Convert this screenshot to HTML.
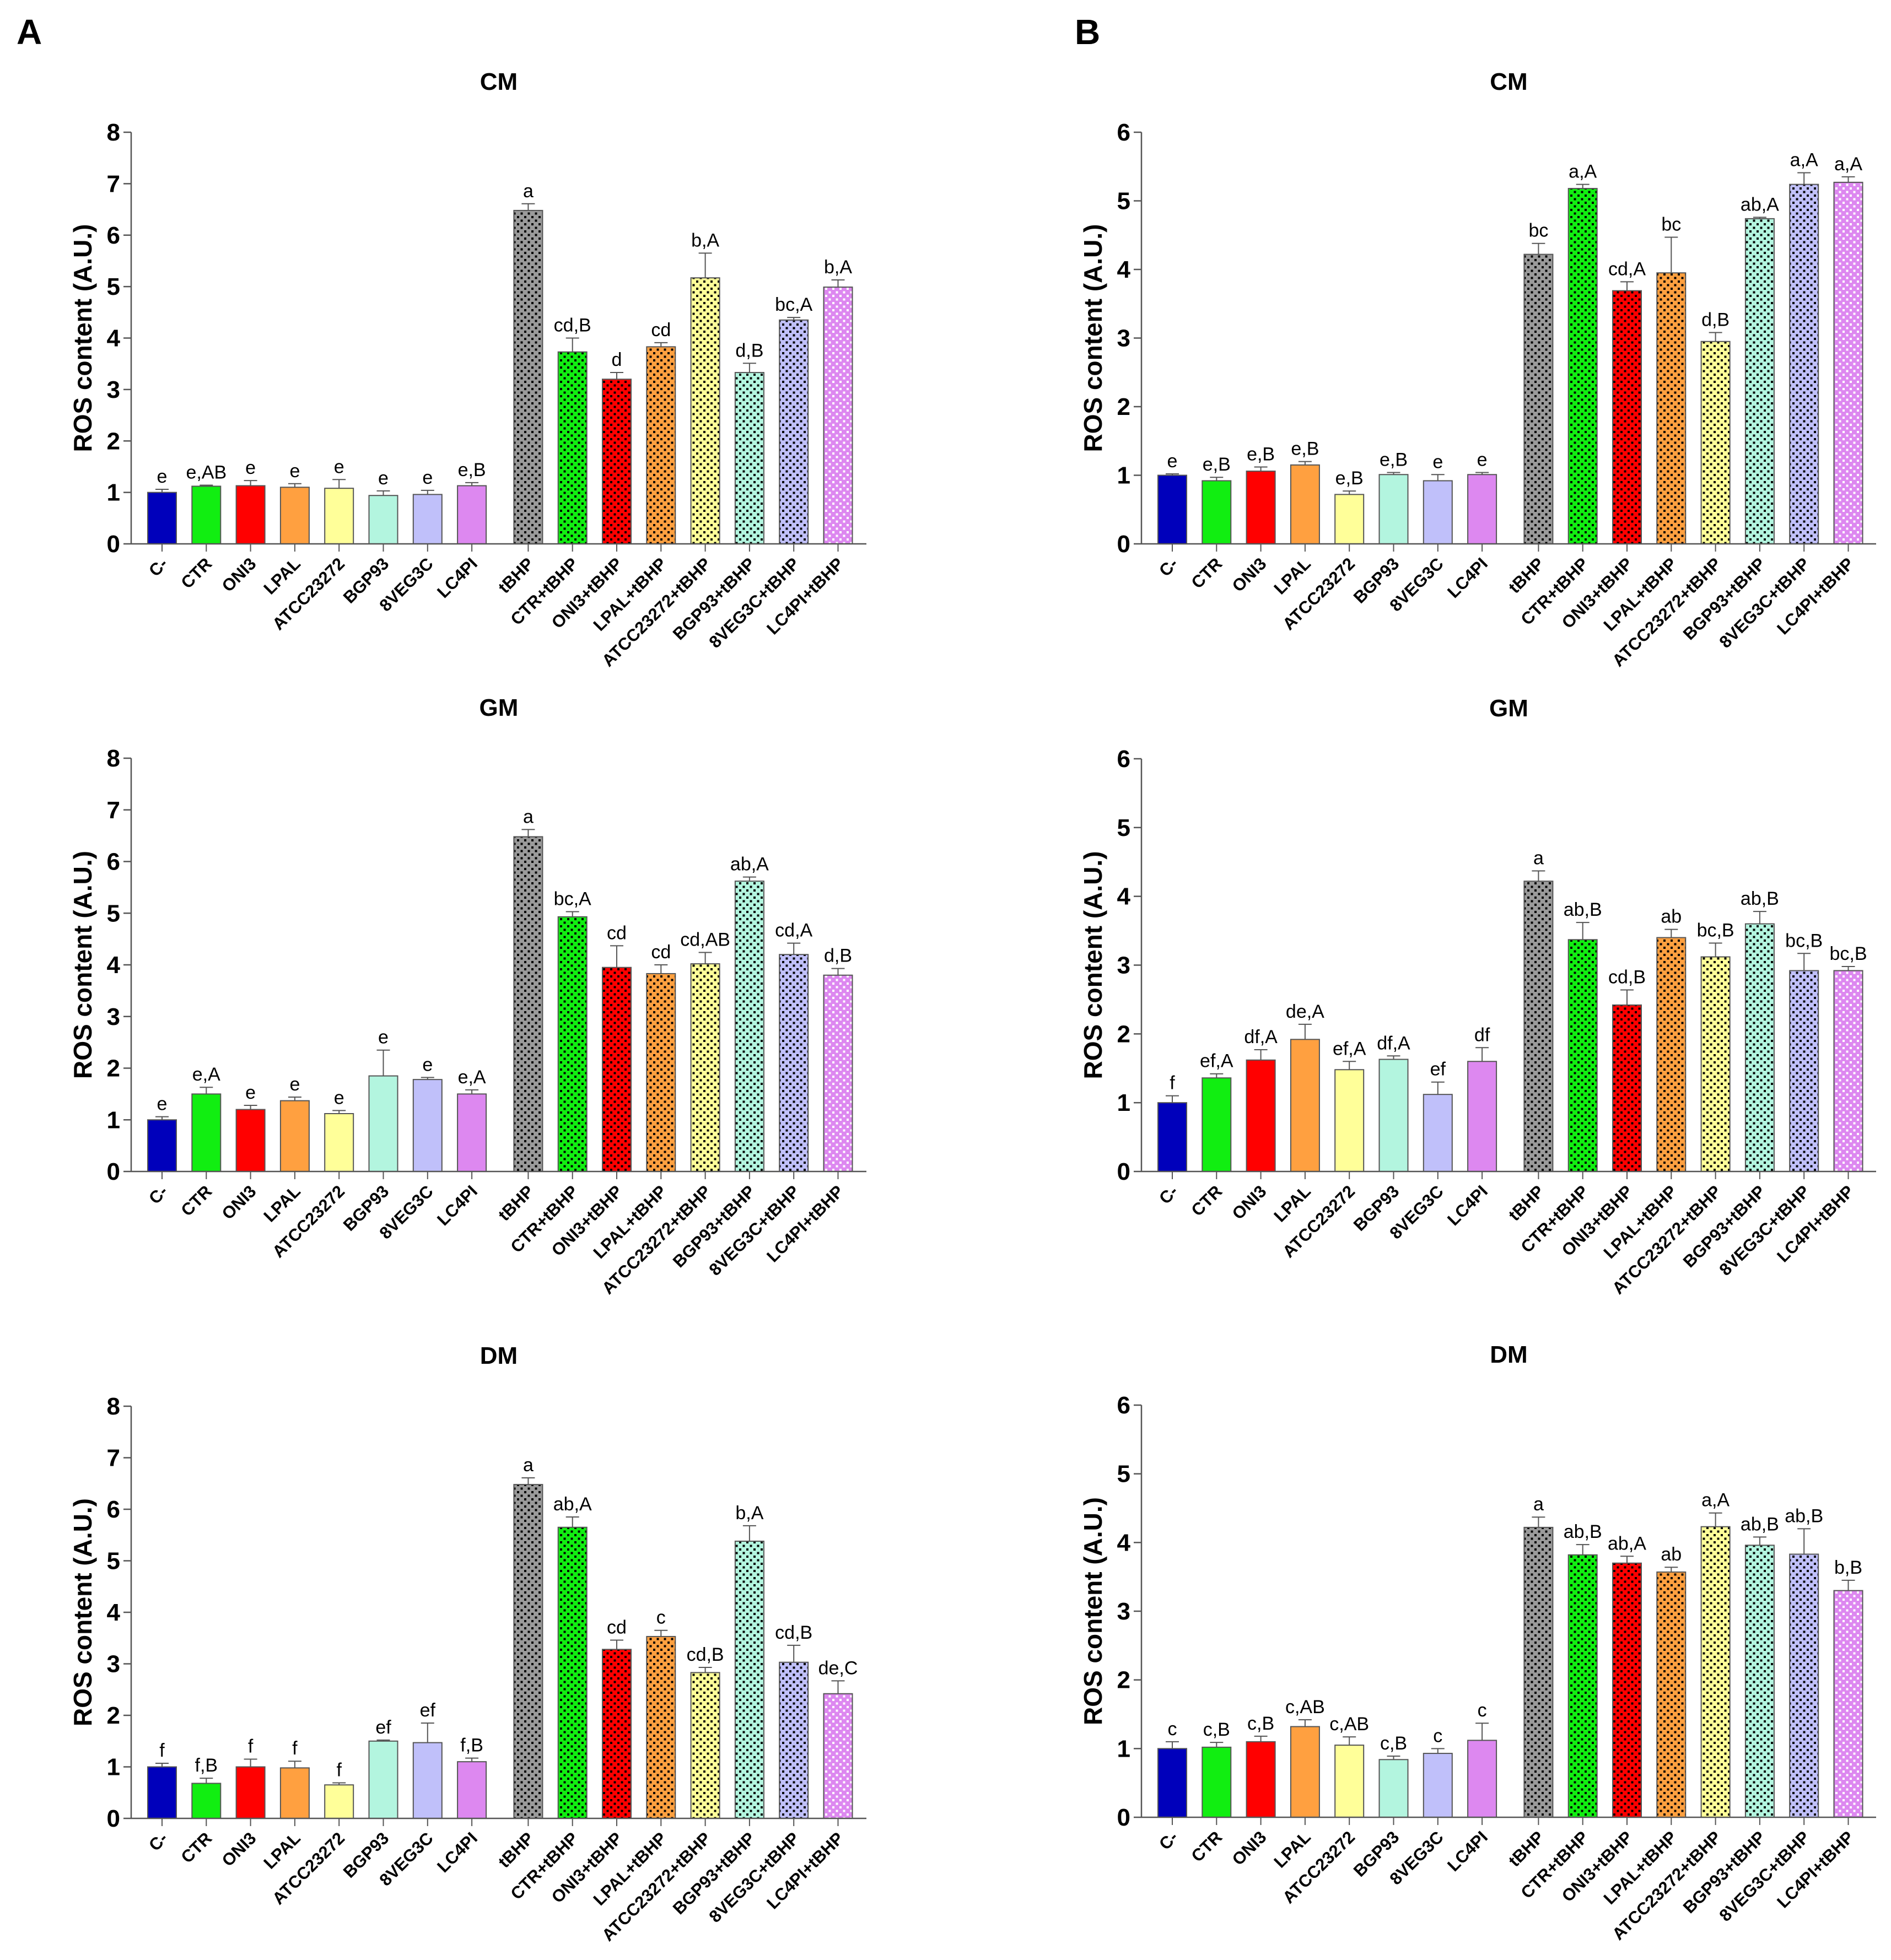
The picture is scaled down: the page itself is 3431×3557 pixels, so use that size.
<!DOCTYPE html>
<html><head><meta charset="utf-8"><style>
html,body{margin:0;padding:0;background:#fff;}
svg{display:block;font-family:"Liberation Sans",Arial,sans-serif;}
</style></head><body>
<svg id="fig" width="3431" height="3557" viewBox="0 0 3431 3557" xmlns="http://www.w3.org/2000/svg">
<defs id="defs"></defs>
<text x="30" y="80" font-size="64" font-weight="bold">A</text>
<text x="1950" y="80" font-size="64" font-weight="bold">B</text>
</svg>
<script>
const categories = ["C-","CTR","ONI3","LPAL","ATCC23272","BGP93","8VEG3C","LC4PI","tBHP","CTR+tBHP","ONI3+tBHP","LPAL+tBHP","ATCC23272+tBHP","BGP93+tBHP","8VEG3C+tBHP","LC4PI+tBHP"];
const aCmValues = [1.0,1.12,1.13,1.1,1.08,0.94,0.96,1.13,6.48,3.73,3.2,3.83,5.17,3.33,4.35,4.99];
const aCmErrors = [0.06,0.02,0.1,0.07,0.17,0.09,0.08,0.06,0.13,0.27,0.13,0.08,0.48,0.18,0.05,0.14];
const aCmLetters = ["e","e,AB","e","e","e","e","e","e,B","a","cd,B","d","cd","b,A","d,B","bc,A","b,A"];
const aGmValues = [1.0,1.5,1.2,1.37,1.12,1.85,1.78,1.5,6.48,4.93,3.95,3.83,4.02,5.62,4.2,3.8];
const aGmErrors = [0.06,0.13,0.08,0.07,0.06,0.5,0.04,0.08,0.14,0.1,0.42,0.17,0.22,0.08,0.22,0.13];
const aGmLetters = ["e","e,A","e","e","e","e","e","e,A","a","bc,A","cd","cd","cd,AB","ab,A","cd,A","d,B"];
const aDmValues = [1.0,0.68,1.0,0.98,0.65,1.5,1.47,1.1,6.48,5.65,3.28,3.53,2.83,5.38,3.03,2.42];
const aDmErrors = [0.07,0.1,0.15,0.13,0.04,0.02,0.38,0.07,0.13,0.2,0.18,0.12,0.1,0.3,0.33,0.25];
const aDmLetters = ["f","f,B","f","f","f","ef","ef","f,B","a","ab,A","cd","c","cd,B","b,A","cd,B","de,C"];
const bCmValues = [1.0,0.92,1.06,1.15,0.72,1.01,0.92,1.01,4.22,5.18,3.69,3.95,2.95,4.74,5.24,5.27];
const bCmErrors = [0.02,0.05,0.06,0.05,0.05,0.03,0.09,0.03,0.16,0.06,0.13,0.52,0.13,0.02,0.17,0.08];
const bCmLetters = ["e","e,B","e,B","e,B","e,B","e,B","e","e","bc","a,A","cd,A","bc","d,B","ab,A","a,A","a,A"];
const bGmValues = [1.0,1.36,1.62,1.92,1.48,1.63,1.12,1.6,4.22,3.37,2.42,3.4,3.12,3.6,2.92,2.92];
const bGmErrors = [0.1,0.06,0.15,0.22,0.12,0.05,0.18,0.2,0.15,0.25,0.22,0.12,0.2,0.18,0.25,0.06];
const bGmLetters = ["f","ef,A","df,A","de,A","ef,A","df,A","ef","df","a","ab,B","cd,B","ab","bc,B","ab,B","bc,B","bc,B"];
const bDmValues = [1.0,1.02,1.1,1.32,1.05,0.84,0.93,1.12,4.22,3.82,3.7,3.57,4.23,3.96,3.83,3.3];
const bDmErrors = [0.1,0.07,0.08,0.1,0.12,0.05,0.07,0.25,0.15,0.15,0.1,0.07,0.2,0.12,0.37,0.15];
const bDmLetters = ["c","c,B","c,B","c,AB","c,AB","c,B","c","c","a","ab,B","ab,A","ab","a,A","ab,B","ab,B","b,B"];
const colors = ["#0000bb","#11ee11","#ff0000","#ffa040","#ffff99","#b3f5df","#c0c0fa","#dd88f0","#9a9a9a","#11ee11","#ff0000","#ffa040","#ffff99","#b3f5df","#c0c0fa","#dd88f0"];

const NS="http://www.w3.org/2000/svg";
const svg=document.getElementById('fig');
const defs=document.getElementById('defs');
function mk(tag,attrs,parent){const e=document.createElementNS(NS,tag);for(const k in attrs)e.setAttribute(k,attrs[k]);(parent||svg).appendChild(e);return e;}

for(let i=8;i<16;i++){
  const p=mk('pattern',{id:'pat'+i,width:13,height:13,patternUnits:'userSpaceOnUse'},defs);
  mk('rect',{x:0,y:0,width:13,height:13,fill:colors[i]},p);
  const dc=i===15?'#ffffff':'#000000';
  mk('rect',{x:2,y:2,width:4,height:4,fill:dc},p);
  mk('rect',{x:8.5,y:8.5,width:4,height:4,fill:dc},p);
}

function panel(cfg){
  const g=mk('g',{});
  
  
  const ax=cfg.axisX, top=cfg.top, bot=cfg.bottom, xEnd=cfg.xEnd, ymax=cfg.ymax;
  const yS=v=>bot-(v/ymax)*(bot-top);
  const step=80.3, gap=22, x0=ax+56, bw=52;
  const xS=i=>x0+i*step+(i>=8?gap:0);
  const t=mk('text',{x:(ax+xEnd)/2,y:top-77,'font-size':44,'font-weight':'bold','text-anchor':'middle'},g);
  t.textContent=cfg.title;
  
  
  const yt=mk('text',{x:0,y:0,'font-size':46,'font-weight':'bold','text-anchor':'middle',transform:`translate(${ax-72},${(top+bot)/2}) rotate(-90)`},g);
  yt.textContent='ROS content (A.U.)';
  
  
  for(let i=0;i<16;i++){
    const cx=xS(i), v=cfg.values[i], e=cfg.errors[i];
    const r=mk('rect',{x:cx-bw/2,y:yS(v),width:bw,height:bot-yS(v),fill:i>=8?`url(#pat${i})`:colors[i],stroke:'#555',"stroke-width":2},g);
    
    
    const ey=yS(v+e);
    mk('line',{x1:cx,y1:yS(v),x2:cx,y2:ey,stroke:'#555','stroke-width':2},g);
    mk('line',{x1:cx-12,y1:ey,x2:cx+12,y2:ey,stroke:'#555','stroke-width':2},g);
    const lt=mk('text',{x:cx,y:ey-12,'font-size':34,'text-anchor':'middle'},g);
    lt.textContent=cfg.letters[i];
    
    
    mk('line',{x1:cx,y1:bot,x2:cx,y2:bot+14,stroke:'#555','stroke-width':2},g);
    const cl=mk('text',{x:0,y:0,'font-size':31,'font-weight':'bold','text-anchor':'end',transform:`translate(${cx+12},${bot+38}) rotate(-45)`},g);
    cl.textContent=categories[i];
    
    
  }
  mk('line',{x1:ax,y1:top,x2:ax,y2:bot,stroke:'#555','stroke-width':2.5},g);
  mk('line',{x1:ax,y1:bot,x2:xEnd,y2:bot,stroke:'#555','stroke-width':2.5},g);
  for(let v=0;v<=ymax;v++){
    const y=yS(v);
    mk('line',{x1:ax-14,y1:y,x2:ax,y2:y,stroke:'#555','stroke-width':2.5},g);
    const tl=mk('text',{x:ax-20,y:y+15,'font-size':44,'font-weight':'bold','text-anchor':'end'},g);
    tl.textContent=String(v);
    
    
  }
}
panel({name:'panel-a-cm',title:'CM',axisX:238,xEnd:1572,top:240,bottom:987,ymax:8,values:aCmValues,errors:aCmErrors,letters:aCmLetters});
panel({name:'panel-a-gm',title:'GM',axisX:238,xEnd:1572,top:1376,bottom:2126,ymax:8,values:aGmValues,errors:aGmErrors,letters:aGmLetters});
panel({name:'panel-a-dm',title:'DM',axisX:238,xEnd:1572,top:2552,bottom:3300,ymax:8,values:aDmValues,errors:aDmErrors,letters:aDmLetters});
panel({name:'panel-b-cm',title:'CM',axisX:2071,xEnd:3404,top:240,bottom:987,ymax:6,values:bCmValues,errors:bCmErrors,letters:bCmLetters});
panel({name:'panel-b-gm',title:'GM',axisX:2071,xEnd:3404,top:1377,bottom:2126,ymax:6,values:bGmValues,errors:bGmErrors,letters:bGmLetters});
panel({name:'panel-b-dm',title:'DM',axisX:2071,xEnd:3404,top:2550,bottom:3298,ymax:6,values:bDmValues,errors:bDmErrors,letters:bDmLetters});
</script>
</body></html>
